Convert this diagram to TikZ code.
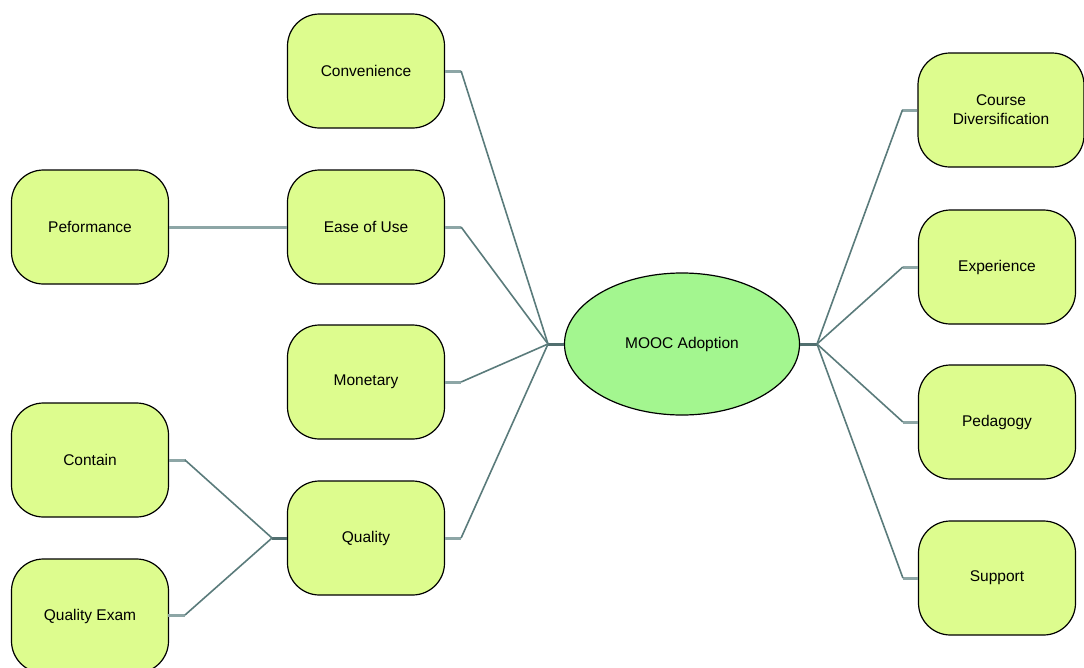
\documentclass[tikz,border=0pt]{standalone}
\usepackage{fontspec}
\setmainfont{Liberation Sans}
\usetikzlibrary{shapes.geometric}
\definecolor{boxfill}{HTML}{DDFC8E}
\definecolor{ellfill}{HTML}{A3F68F}
\definecolor{linec}{HTML}{5A7B7B}
\definecolor{stubc}{HTML}{8DA6A6}
\tikzset{
  x=1pt, y=-1pt,
  box/.style={draw=black, line width=1.2pt, fill=boxfill, rounded corners=32pt,
    minimum width=157pt, minimum height=114pt, inner sep=0pt, align=center,
    font=\fontsize{15.5}{19}\selectfont},
  ell/.style={ellipse, draw=black, line width=1.2pt, fill=ellfill,
    minimum width=235pt, minimum height=142pt, inner sep=0pt,
    font=\fontsize{15.5}{19}\selectfont},
  conn/.style={draw=linec, line width=1.6pt},
  stub/.style={draw=stubc, line width=3pt},
  hub/.style={draw=linec!90!black, line width=3pt},
}
\begin{document}
\begin{tikzpicture}
\useasboundingbox (0,0) rectangle (1084,667);
% nodes
\node[ell] (mooc) at (682,344) {MOOC Adoption};
\node[box] (conv) at (366,71) {Convenience};
\node[box] (ease) at (366,227) {Ease of Use};
\node[box] (mon) at (366,382) {Monetary};
\node[box] (qual) at (366,538) {Quality};
\node[box] (perf) at (90,227) {Peformance};
\node[box] (cont) at (90,460) {Contain};
\node[box] (qexam) at (90,616) {Quality Exam};
\node[box, minimum width=166pt] (cdiv) at (1001,110) {Course\\Diversification};
\node[box] (exp) at (997,267) {Experience};
\node[box] (ped) at (997,422) {Pedagogy};
\node[box] (sup) at (997,578) {Support};
% junctions
\coordinate (jl) at (548,344);
\coordinate (jr) at (817,344);
\coordinate (jq) at (272,538);
% left hub
\draw[hub] (mooc.west) -- (jl);
\foreach \n in {conv,ease,mon,qual}{
  \draw[stub] (\n.east) -- ++(16,0);
  \draw[conn] ([xshift=16pt]\n.east) -- (jl);
}
% right hub
\draw[hub] (mooc.east) -- (jr);
\foreach \n in {cdiv,exp,ped,sup}{
  \draw[stub] (\n.west) -- ++(-15,0);
  \draw[conn] ([xshift=-15pt]\n.west) -- (jr);
}
% performance
\draw[stub] (perf.east) -- (ease.west);
% quality sub
\draw[hub] (qual.west) -- (jq);
\draw[stub] (cont.east |- 0,460) -- ++(17,0);
\draw[conn] (185,460) -- (jq);
\coordinate (qe) at (168,615);
\draw[stub] (qe) -- ++(17,0);
\draw[conn] (185,615) -- (jq);
\end{tikzpicture}
\end{document}
